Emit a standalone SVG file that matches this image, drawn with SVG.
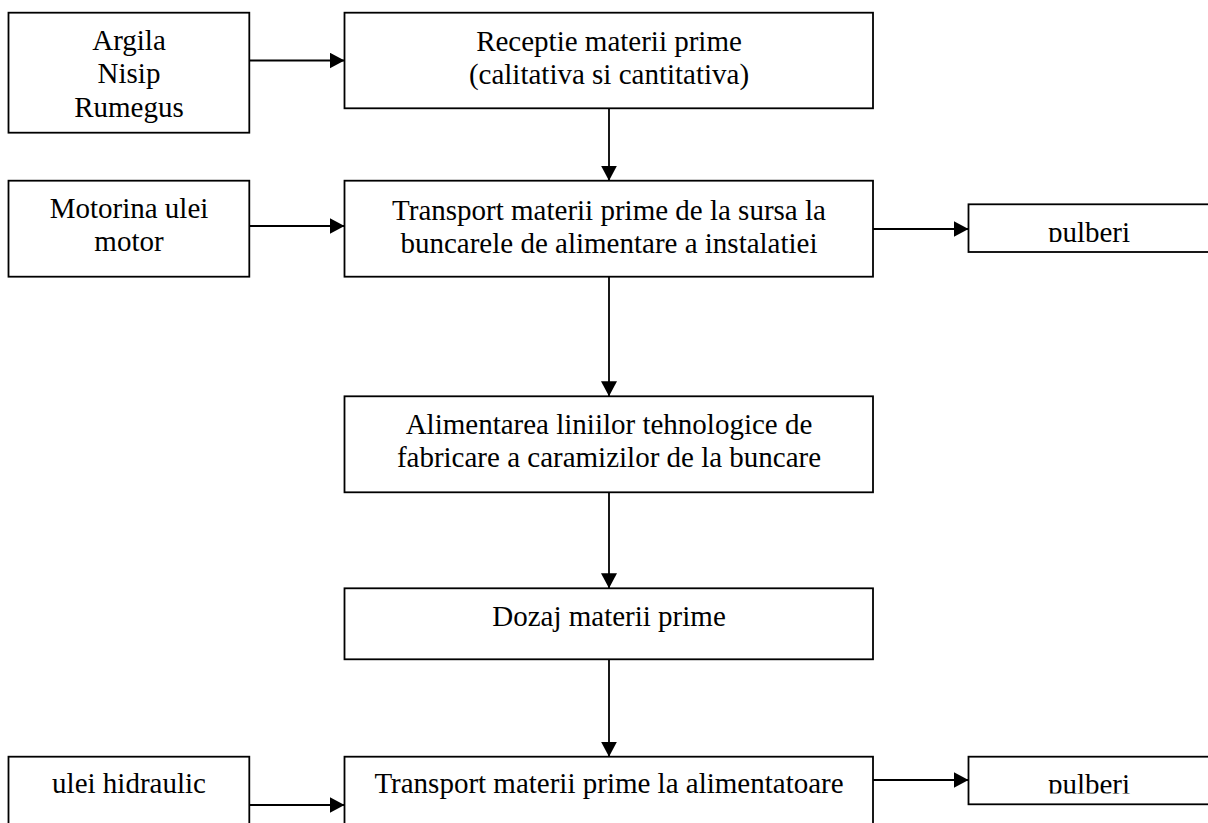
<svg xmlns="http://www.w3.org/2000/svg" width="1208" height="823" viewBox="0 0 1208 823">
<style>
.box{fill:#fff;stroke:#000;stroke-width:1.8}
.t{font-family:"Liberation Serif","Times New Roman",serif;font-size:29px;fill:#000;text-anchor:middle}
.c{stroke:#000;stroke-width:1.8;fill:none;marker-end:url(#ah)}
</style>
<defs>
<marker id="ah" markerUnits="userSpaceOnUse" markerWidth="16" markerHeight="17" refX="15" refY="8" orient="auto" viewBox="0 0 16 17">
<path d="M0,0 L15,8 L0,16 Z" fill="#000"/>
</marker>
<clipPath id="clip1"><rect x="968" y="204" width="260" height="38"/></clipPath>
<clipPath id="clip2"><rect x="968" y="756" width="260" height="37.5"/></clipPath>
</defs>
<rect width="1208" height="823" fill="#fff"/>
<g id="connectors">
<path class="c" d="M249.3,60.5 H344.5"/>
<path class="c" d="M249.3,226 H344.5"/>
<path class="c" d="M873,229 H968.5"/>
<path class="c" d="M249.3,805 H344.5"/>
<path class="c" d="M873,780 H968.5"/>
<path class="c" d="M609,108.3 V180.7"/>
<path class="c" d="M609,276.7 V396.3"/>
<path class="c" d="M609,492.3 V588.3"/>
<path class="c" d="M609,659.3 V756.7"/>
</g>
<g id="n-argila">
<rect class="box" x="8.5" y="12.7" width="240.8" height="120"/>
<text class="t" x="129" y="50">Argila</text>
<text class="t" x="129" y="83">Nisip</text>
<text class="t" x="129" y="116.5">Rumegus</text>
</g>
<g id="n-receptie">
<rect class="box" x="344.5" y="12.7" width="528.5" height="95.6"/>
<text class="t" x="609" y="51">Receptie materii prime</text>
<text class="t" x="609" y="84.3">(calitativa si cantitativa)</text>
</g>
<g id="n-motorina">
<rect class="box" x="8.5" y="180.7" width="240.8" height="96"/>
<text class="t" x="129" y="218">Motorina ulei</text>
<text class="t" x="129" y="251.3">motor</text>
</g>
<g id="n-transport1">
<rect class="box" x="344.5" y="180.7" width="528.5" height="96"/>
<text class="t" x="609" y="219.5">Transport materii prime de la sursa la</text>
<text class="t" x="609" y="252.5">buncarele de alimentare a instalatiei</text>
</g>
<g id="n-pulberi1">
<rect class="box" x="968.5" y="204.3" width="260" height="47.7"/>
<text class="t" x="1089" y="242" clip-path="url(#clip1)">pulberi</text>
</g>
<g id="n-alimentarea">
<rect class="box" x="344.5" y="396.3" width="528.5" height="96"/>
<text class="t" x="609" y="433.5">Alimentarea liniilor tehnologice de</text>
<text class="t" x="609" y="467">fabricare a caramizilor de la buncare</text>
</g>
<g id="n-dozaj">
<rect class="box" x="344.5" y="588.3" width="528.5" height="71"/>
<text class="t" x="609" y="626">Dozaj materii prime</text>
</g>
<g id="n-ulei">
<rect class="box" x="8.5" y="756.7" width="240.8" height="100"/>
<text class="t" x="129" y="793.3">ulei hidraulic</text>
</g>
<g id="n-transport2">
<rect class="box" x="344.5" y="756.7" width="528.5" height="100"/>
<text class="t" x="609" y="793.3">Transport materii prime la alimentatoare</text>
</g>
<g id="n-pulberi2">
<rect class="box" x="968.5" y="756.7" width="260" height="47.6"/>
<text class="t" x="1089" y="793.5" clip-path="url(#clip2)">pulberi</text>
</g>
</svg>
